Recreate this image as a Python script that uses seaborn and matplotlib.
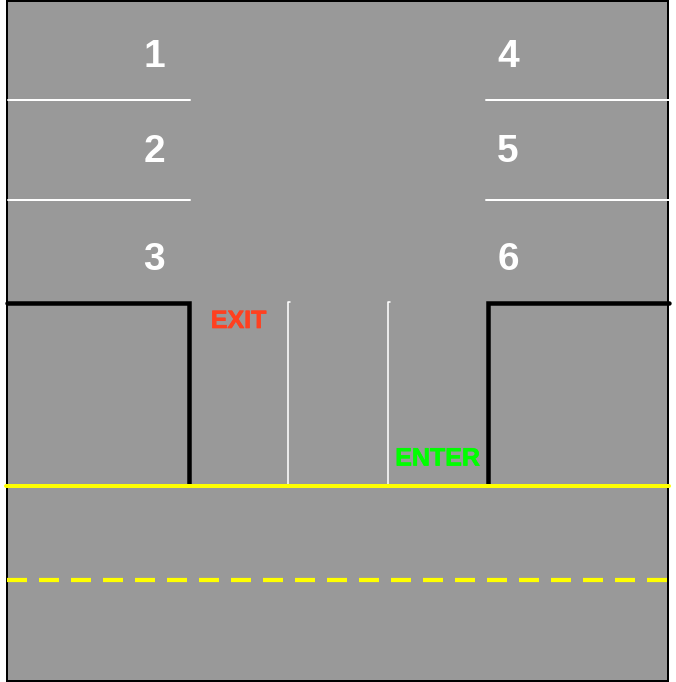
import matplotlib as mpl
mpl.use('Agg')
import matplotlib.pyplot as plt
import matplotlib.patches as patches
import matplotlib.patheffects as pe
import seaborn as sns

# lot layout, in pixel units of the 676x682 picture (y grows downward)
lot_box = [7, 1, 668, 681]                     # left, top, right, bottom
left_stalls = ['1', '2', '3']
right_stalls = ['4', '5', '6']
stall_label_x = [154, 508]
stall_label_baseline = [67, 161.5, 270]
stall_divider_y = [100, 199.5]
left_divider_x = [8, 190]
right_divider_x = [486, 669]

# black curbs around the driveway
left_curb_x = [7, 189, 189]
left_curb_y = [303, 303, 485]
right_curb_x = [669, 488, 488]
right_curb_y = [303, 303, 485]

# white lane lines inside the driveway
lane_x = [288, 388]
lane_top, lane_bottom = 302, 485

# yellow street lines
street_edge_y = 486
street_center_y = 579.5
street_x = [6, 669]

exit_label = ('EXIT', 238.5, 328)
enter_label = ('ENTER', 437.5, 465.5)

PX = 72 / 100  # points per pixel at dpi 100

sns.set_style('white')
plt.rcParams['font.family'] = ['Liberation Sans', 'DejaVu Sans']
plt.rcParams['lines.scale_dashes'] = False

fig = plt.figure(figsize=(6.76, 6.82), dpi=100)
ax = fig.add_axes([0, 0, 1, 1])
ax.set_xlim(0, 676)
ax.set_ylim(682, 0)
ax.axis('off')

l, t, r, b = lot_box
ax.add_patch(patches.Rectangle((l, t), r - l, b - t, facecolor='#999999',
                               edgecolor='black', linewidth=2 * PX))

# stall dividers
for y in stall_divider_y:
    ax.plot(left_divider_x, [y, y], color='white', linewidth=2 * PX)
    ax.plot(right_divider_x, [y, y], color='white', linewidth=2 * PX)

# stall numbers
for labels, x in zip([left_stalls, right_stalls], stall_label_x):
    for lab, y in zip(labels, stall_label_baseline):
        ax.text(x, y, lab, color='white', fontsize=28, fontweight='bold',
                ha='center', va='baseline')

# curbs
for xs, ys in [(left_curb_x, left_curb_y), (right_curb_x, right_curb_y)]:
    ax.plot(xs, ys, color='black', linewidth=4.5 * PX,
            solid_capstyle='round', solid_joinstyle='miter')

# lane lines (with the small hook at the top)
for x in lane_x:
    ax.plot([x + 2, x, x], [lane_top, lane_top, lane_bottom],
            color='white', linewidth=1.6 * PX)

# street lines
sns.lineplot(x=street_x, y=[street_edge_y] * 2, ax=ax, color='#ffff00',
             linewidth=4 * PX)
ax.plot([street_x[0] + 0.5, street_x[1] - 2], [street_center_y] * 2,
        color='#ffff00', linewidth=4.2 * PX,
        linestyle=(0, (20 * PX, 12 * PX)))

ax.text(exit_label[1], exit_label[2], exit_label[0], color='#ff4020',
        fontsize=18, fontweight='bold', ha='center', va='baseline',
        path_effects=[pe.withStroke(linewidth=0.5, foreground='#ff4020')])
ax.text(enter_label[1], enter_label[2], enter_label[0], color='#00ff00',
        fontsize=18, fontweight='bold', ha='center', va='baseline',
        path_effects=[pe.withStroke(linewidth=0.5, foreground='#00ff00')])

fig.savefig('out.png', dpi=100, facecolor='white')
